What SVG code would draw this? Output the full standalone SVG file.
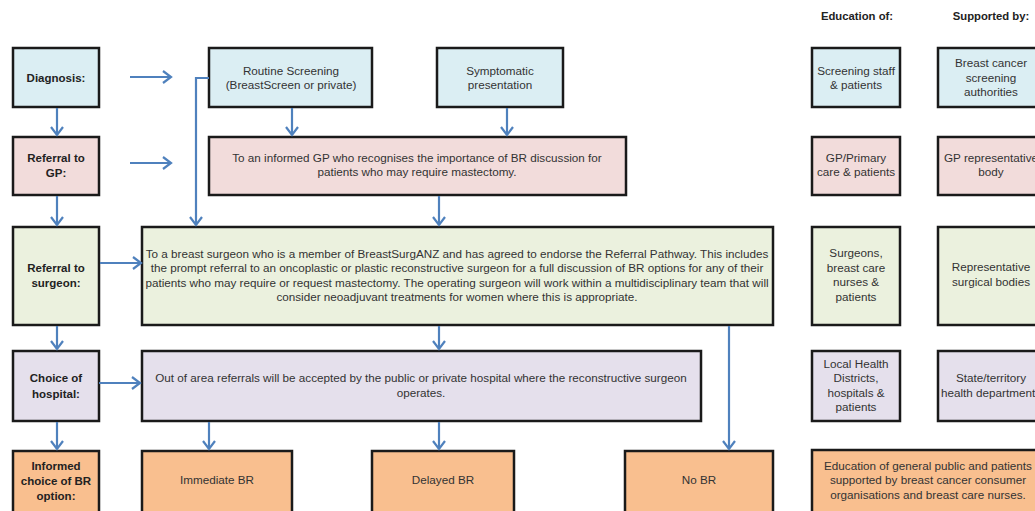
<svg xmlns="http://www.w3.org/2000/svg" width="1035" height="511" viewBox="0 0 1035 511">
<defs>
<marker id="ah" markerUnits="userSpaceOnUse" markerWidth="16" markerHeight="16" viewBox="-10 -8 12 16" refX="0" refY="0" orient="auto">
<path d="M-8,-6 L0,0 L-8,6" fill="none" stroke="#4f81bd" stroke-width="2.2"/>
</marker>
</defs>
<style>
rect{stroke:#1a1a1a;stroke-width:2.5}
.blue{fill:#dbeef3}.pink{fill:#f2dcdb}.green{fill:#ebf1de}.lav{fill:#e5e0ec}.orange{fill:#f9bf8f}
text{font-family:"Liberation Sans",Arial,sans-serif;font-size:11.7px;fill:#333;text-anchor:middle}
.b{font-weight:bold;fill:#222;font-size:11.5px}
.h{font-size:11.3px}
.c line,.c path{stroke:#4f81bd;stroke-width:2.2;fill:none;marker-end:url(#ah)}
</style>
<rect width="1035" height="511" fill="#fff" style="stroke:none"/>
<text class="b h" x="857" y="20">Education of:</text>
<text class="b h" x="991" y="20">Supported by:</text>

<g id="diagnosis"><rect class="blue" x="13" y="48" width="86" height="59"/><text class="b" x="56" y="82">Diagnosis:</text></g>
<g id="referral-gp"><rect class="pink" x="13" y="137" width="86" height="58"/><text class="b" x="56" y="162">Referral to</text><text class="b" x="56" y="177">GP:</text></g>
<g id="referral-surgeon"><rect class="green" x="13" y="227" width="86" height="98"/><text class="b" x="56" y="272">Referral to</text><text class="b" x="56" y="287">surgeon:</text></g>
<g id="choice-hospital"><rect class="lav" x="13" y="351" width="86" height="70"/><text class="b" x="56" y="382">Choice of</text><text class="b" x="56" y="398">hospital:</text></g>
<g id="informed-choice"><rect class="orange" x="13" y="451" width="86" height="75"/><text class="b" x="56" y="470">Informed</text><text class="b" x="56" y="485">choice of BR</text><text class="b" x="56" y="500">option:</text></g>

<g id="routine-screening"><rect class="blue" x="209" y="48" width="163" height="59"/><text x="291" y="75">Routine Screening</text><text x="291" y="89">(BreastScreen or private)</text></g>
<g id="symptomatic"><rect class="blue" x="437" y="48" width="126" height="59"/><text x="500" y="75">Symptomatic</text><text x="500" y="89">presentation</text></g>
<g id="gp"><rect class="pink" x="209" y="137" width="417" height="58"/><text x="417" y="162">To an informed GP who recognises the importance of BR discussion for</text><text x="417" y="176">patients who may require mastectomy.</text></g>
<g id="surgeon"><rect class="green" x="142" y="227" width="631" height="98"/>
<text x="457" y="258">To a breast surgeon who is a member of BreastSurgANZ and has agreed to endorse the Referral Pathway. This includes</text>
<text x="457" y="272">the prompt referral to an oncoplastic or plastic reconstructive surgeon for a full discussion of BR options for any of their</text>
<text x="457" y="287">patients who may require or request mastectomy. The operating surgeon will work within a multidisciplinary team that will</text>
<text x="457" y="301">consider neoadjuvant treatments for women where this is appropriate.</text></g>
<g id="hospital"><rect class="lav" x="142" y="351" width="559" height="70"/><text x="421" y="382">Out of area referrals will be accepted by the public or private hospital where the reconstructive surgeon</text><text x="421" y="397">operates.</text></g>
<g id="immediate-br"><rect class="orange" x="142" y="451" width="150" height="75"/><text x="217" y="484">Immediate BR</text></g>
<g id="delayed-br"><rect class="orange" x="372" y="451" width="142" height="75"/><text x="443" y="484">Delayed BR</text></g>
<g id="no-br"><rect class="orange" x="625" y="451" width="148" height="75"/><text x="699" y="484">No BR</text></g>

<g id="edu-screening"><rect class="blue" x="812" y="48" width="88" height="59"/><text x="856" y="75">Screening staff</text><text x="856" y="89">&amp; patients</text></g>
<g id="sup-screening"><rect class="blue" x="938" y="48" width="106" height="59"/><text x="991" y="67">Breast cancer</text><text x="991" y="82">screening</text><text x="991" y="96">authorities</text></g>
<g id="edu-gp"><rect class="pink" x="812" y="137" width="88" height="58"/><text x="856" y="162">GP/Primary</text><text x="856" y="176">care &amp; patients</text></g>
<g id="sup-gp"><rect class="pink" x="938" y="137" width="106" height="58"/><text x="991" y="162">GP representative</text><text x="991" y="176">body</text></g>
<g id="edu-surgeons"><rect class="green" x="812" y="227" width="88" height="98"/><text x="856" y="257">Surgeons,</text><text x="856" y="272">breast care</text><text x="856" y="286">nurses &amp;</text><text x="856" y="301">patients</text></g>
<g id="sup-surgeons"><rect class="green" x="938" y="227" width="106" height="98"/><text x="991" y="271">Representative</text><text x="991" y="286">surgical bodies</text></g>
<g id="edu-hospital"><rect class="lav" x="812" y="351" width="88" height="70"/><text x="856" y="368">Local Health</text><text x="856" y="382">Districts,</text><text x="856" y="397">hospitals &amp;</text><text x="856" y="411">patients</text></g>
<g id="sup-hospital"><rect class="lav" x="938" y="351" width="106" height="70"/><text x="991" y="382">State/territory</text><text x="941" y="397" style="text-anchor:start">health department</text></g>
<g id="edu-public"><rect class="orange" x="812" y="450" width="232" height="76"/><text x="928" y="470">Education of general public and patients</text><text x="928" y="484">supported by breast cancer consumer</text><text x="928" y="499">organisations and breast care nurses.</text></g>

<g id="connectors" class="c">
<line x1="130" y1="77" x2="171" y2="77"/>
<line x1="130" y1="163" x2="171" y2="163"/>
<line x1="100" y1="263" x2="141" y2="263"/>
<line x1="99" y1="383" x2="140" y2="383"/>
<line x1="57" y1="108" x2="57" y2="135"/>
<line x1="57" y1="196" x2="57" y2="225"/>
<line x1="57" y1="326" x2="57" y2="349"/>
<line x1="57" y1="422" x2="57" y2="449"/>
<path d="M209,78 H196 V225"/>
<line x1="292" y1="108" x2="292" y2="135"/>
<line x1="507" y1="108" x2="507" y2="135"/>
<line x1="439" y1="196" x2="439" y2="225"/>
<line x1="439" y1="326" x2="439" y2="349"/>
<line x1="729" y1="326" x2="729" y2="449"/>
<line x1="209" y1="422" x2="209" y2="449"/>
<line x1="439" y1="422" x2="439" y2="449"/>
</g>
</svg>
